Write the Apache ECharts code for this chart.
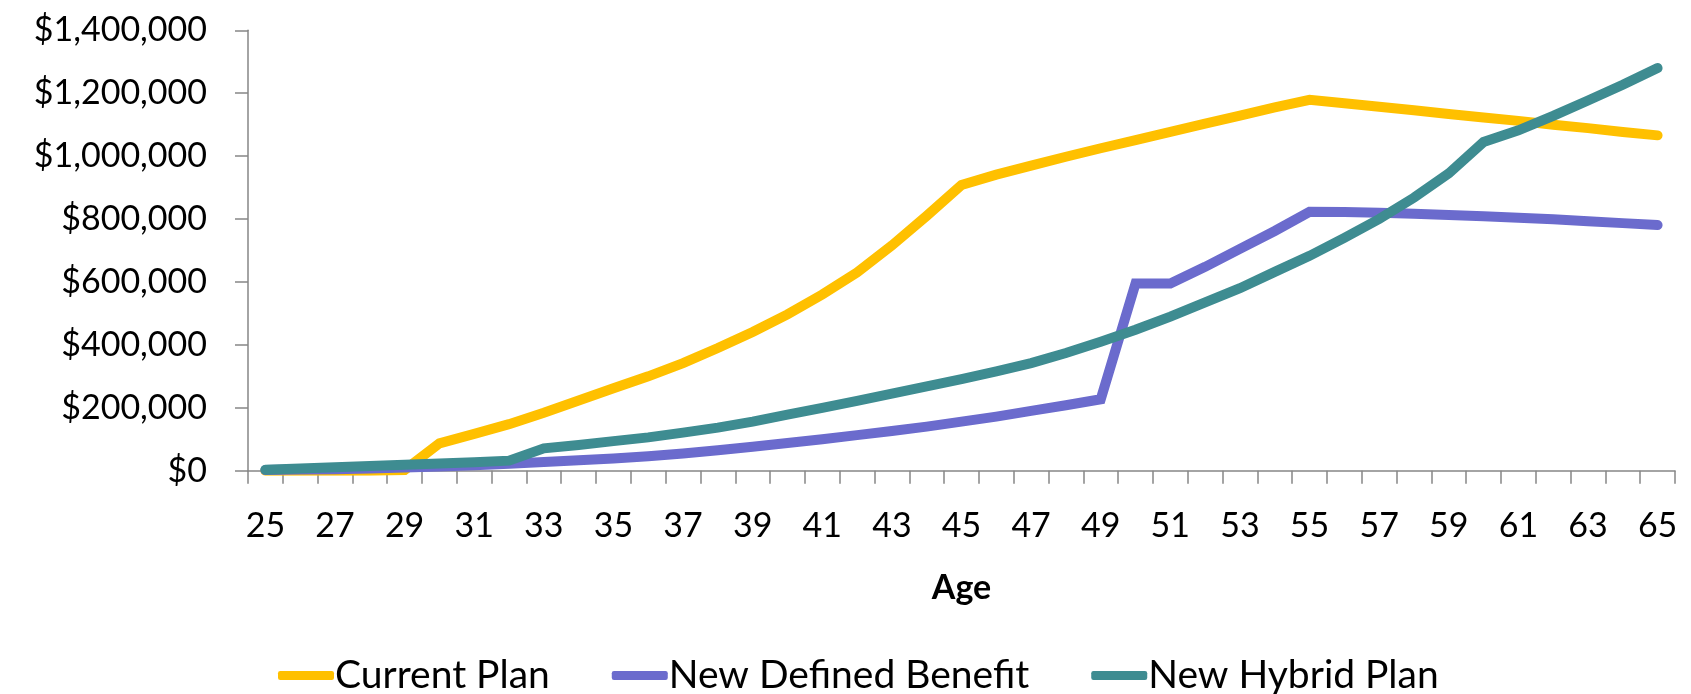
<!DOCTYPE html>
<html>
<head>
<meta charset="utf-8">
<title>Projected Benefit Value by Age</title>
<script src="https://cdn.jsdelivr.net/npm/echarts@6/dist/echarts.min.js"></script>
<style>
  html, body { margin: 0; padding: 0; background: #ffffff; }
  #chart { width: 1691px; height: 694px; }
</style>
</head>
<body>
<div id="chart"></div>
<script>
// Ages along the horizontal axis
const ages = ['25','26','27','28','29','30','31','32','33','34','35','36','37','38','39','40',
  '41','42','43','44','45','46','47','48','49','50','51','52','53','54','55','56','57','58',
  '59','60','61','62','63','64','65'];

// Benefit value by age, in dollars
const currentPlan = [0, 0, 0, 0, 2000, 87000, 117000, 148000, 184000, 223000, 262000, 300000,
  342000, 390000, 441000, 497000, 560000, 630000, 716000, 810000, 908000, 941000, 970000,
  998000, 1025000, 1051000, 1077000, 1103000, 1129000, 1155000, 1179000, 1168000, 1157000,
  1146000, 1134000, 1123000, 1112000, 1100000, 1089000, 1077000, 1066000];

const newDefinedBenefit = [2000, 3500, 5000, 7000, 10000, 13000, 17000, 22000, 28000, 33000,
  39000, 46000, 55000, 65000, 76000, 88000, 100000, 113000, 126000, 140000, 156000, 172000,
  190000, 208000, 227000, 595000, 595000, 648000, 705000, 762000, 823000, 822000, 820000,
  817000, 813000, 809000, 804000, 799000, 793000, 787000, 781000];

const newHybridPlan = [3000, 7000, 11000, 15000, 19000, 23000, 27000, 32000, 71000, 82000,
  94000, 106000, 121000, 137000, 156000, 178000, 200000, 222000, 245000, 268000, 291000,
  316000, 342000, 374000, 410000, 448000, 490000, 535000, 580000, 632000, 683000, 740000,
  800000, 868000, 945000, 1045000, 1082000, 1128000, 1177000, 1227000, 1280000];

// Value axis ticks
const valueTicks = { min: 0, max: 1400000, step: 200000 };

const FONT = 'Lato, "Liberation Sans", sans-serif';
const AXIS_GREY = '#868686';

function dollars(v) {
  return '$' + String(v).replace(/\B(?=(\d{3})+(?!\d))/g, ',');
}

function lineSeries(name, data, color) {
  return {
    name: name,
    type: 'line',
    data: data,
    symbol: 'none',
    showSymbol: false,
    smooth: false,
    color: color,
    lineStyle: { width: 10, color: color, cap: 'round', join: 'miter' },
    emphasis: { disabled: true }
  };
}

const chart = echarts.init(document.getElementById('chart'), null, { renderer: 'canvas' });

chart.setOption({
  animation: false,
  backgroundColor: '#ffffff',
  textStyle: { fontFamily: FONT, color: '#000000' },
  grid: { left: 248, right: 16, top: 30.3, bottom: 223.3, containLabel: false },
  legend: {
    left: 278,
    top: 656,
    padding: 0,
    itemGap: 62,
    itemWidth: 56,
    itemHeight: 9,
    icon: 'roundRect',
    textStyle: { fontFamily: FONT, fontSize: 39, color: '#000000', padding: [0, 0, 0, -4] },
    data: ['Current Plan', 'New Defined Benefit', 'New Hybrid Plan']
  },
  xAxis: {
    type: 'category',
    data: ages,
    boundaryGap: true,
    name: 'Age',
    nameLocation: 'middle',
    nameGap: 100,
    nameTextStyle: { fontFamily: FONT, fontSize: 34, fontWeight: 'bold', color: '#000000' },
    axisLine: { show: true, lineStyle: { color: AXIS_GREY, width: 1.5 } },
    axisTick: { show: true, interval: 0, length: 13, lineStyle: { color: AXIS_GREY, width: 1.5 } },
    axisLabel: { interval: 1, margin: 38, fontFamily: FONT, fontSize: 34, color: '#000000' },
    splitLine: { show: false }
  },
  yAxis: {
    type: 'value',
    min: valueTicks.min,
    max: valueTicks.max,
    interval: valueTicks.step,
    axisLine: { show: true, lineStyle: { color: AXIS_GREY, width: 1.5 } },
    axisTick: { show: true, length: 13, lineStyle: { color: AXIS_GREY, width: 1.5 } },
    axisLabel: { margin: 41, fontFamily: FONT, fontSize: 34, color: '#000000', formatter: dollars },
    splitLine: { show: false }
  },
  series: [
    lineSeries('Current Plan', currentPlan, '#FFC000'),
    lineSeries('New Defined Benefit', newDefinedBenefit, '#6B6BCD'),
    lineSeries('New Hybrid Plan', newHybridPlan, '#3E8C91')
  ]
});
</script>
</body>
</html>
